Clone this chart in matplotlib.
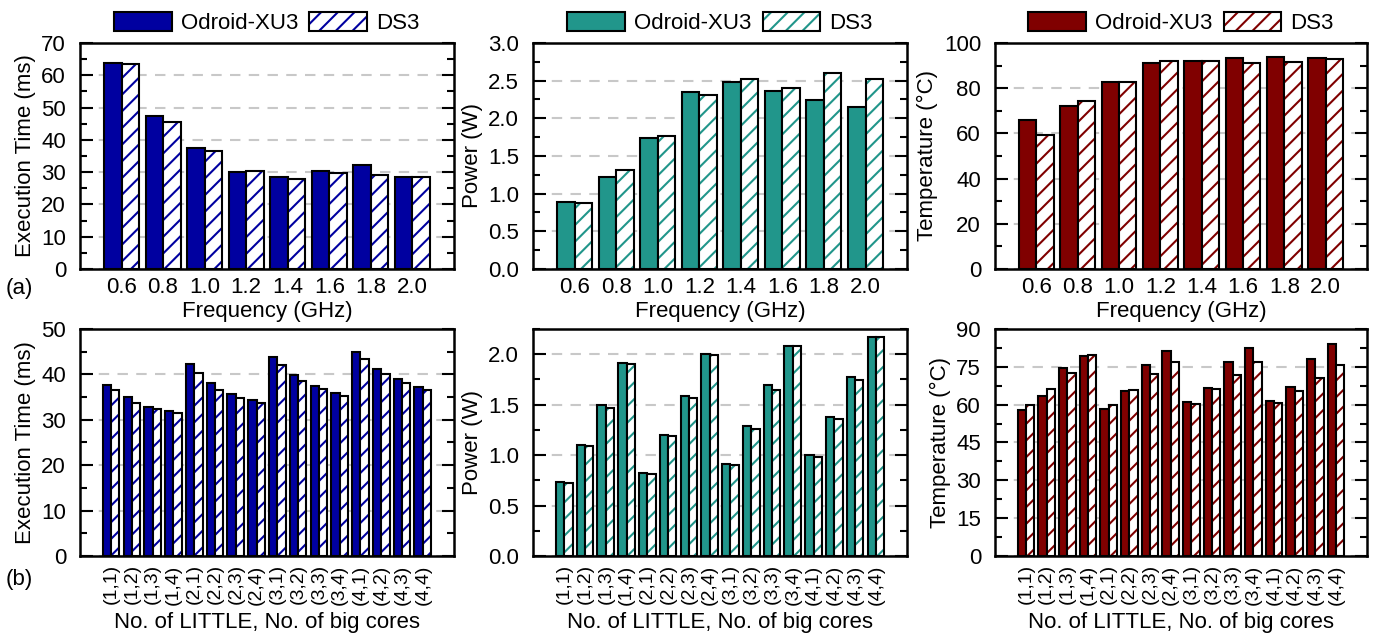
import numpy as np
import matplotlib
matplotlib.use("Agg")
import matplotlib.pyplot as plt
from matplotlib.patches import Patch
from matplotlib.ticker import MultipleLocator

#----------------------------------------------------------------
# data
#----------------------------------------------------------------
freqs = ["0.6", "0.8", "1.0", "1.2", "1.4", "1.6", "1.8", "2.0"]
cores = ["(1,1)", "(1,2)", "(1,3)", "(1,4)", "(2,1)", "(2,2)", "(2,3)", "(2,4)",
         "(3,1)", "(3,2)", "(3,3)", "(3,4)", "(4,1)", "(4,2)", "(4,3)", "(4,4)"]

# (a) frequency sweep
time_freq_odroid = [63.9, 47.4, 37.4, 30.0, 28.6, 30.2, 32.1, 28.6]
time_freq_ds3 = [63.6, 45.5, 36.4, 30.5, 27.9, 29.7, 29.0, 28.5]
power_freq_odroid = [0.89, 1.22, 1.74, 2.35, 2.48, 2.36, 2.24, 2.15]
power_freq_ds3 = [0.87, 1.31, 1.76, 2.31, 2.52, 2.40, 2.60, 2.52]
temp_freq_odroid = [65.8, 72.1, 82.6, 91.2, 91.9, 93.4, 93.7, 93.2]
temp_freq_ds3 = [59.3, 74.3, 82.7, 92.0, 92.0, 91.3, 91.6, 92.9]

# (b) core configuration sweep
time_core_odroid = [37.7, 35.0, 32.9, 32.0, 42.3, 38.0, 35.7, 34.3,
                    43.8, 39.9, 37.4, 36.0, 44.9, 41.2, 39.0, 37.2]
time_core_ds3 = [36.6, 33.6, 32.3, 31.5, 40.2, 36.6, 34.7, 33.8,
                 42.1, 38.6, 36.7, 35.2, 43.5, 40.0, 38.1, 36.6]
power_core_odroid = [0.73, 1.10, 1.50, 1.91, 0.82, 1.20, 1.59, 2.00,
                     0.91, 1.29, 1.69, 2.08, 1.00, 1.38, 1.77, 2.17]
power_core_ds3 = [0.72, 1.09, 1.47, 1.90, 0.81, 1.19, 1.57, 1.99,
                  0.90, 1.26, 1.65, 2.08, 0.98, 1.36, 1.74, 2.17]
temp_core_odroid = [58.0, 63.4, 74.4, 79.3, 58.3, 65.5, 75.6, 81.3,
                    60.9, 66.7, 76.9, 82.3, 61.6, 67.0, 78.1, 84.2]
temp_core_ds3 = [59.7, 66.3, 72.6, 79.7, 59.9, 65.9, 72.3, 76.9,
                 60.3, 66.3, 71.8, 76.9, 60.7, 65.5, 70.6, 75.9]

BLUE = "#0000a0"
TEAL = "#21968b"
RED = "#800000"

plt.rcParams["font.family"] = ["Liberation Sans", "DejaVu Sans"]
plt.rcParams["font.size"] = 16
plt.rcParams["hatch.linewidth"] = 1.5


#----------------------------------------------------------------
# one panel
#----------------------------------------------------------------
def draw_panel(ax, labels, od, ds, color, ylim, major, minor, ylabel, width,
               xlim, xlabel, rotate=False, legend=False):
    x = np.arange(len(labels))
    ax.bar(x - width / 2, od, width, color=color, edgecolor="black", linewidth=1.5, zorder=3)
    # hatched bar: colored hatch, then black outline on top
    ax.bar(x + width / 2, ds, width, color="white", edgecolor=color, hatch="//", linewidth=0, zorder=3)
    ax.bar(x + width / 2, ds, width, color="none", edgecolor="black", linewidth=1.5, zorder=4)

    ax.set_xlim(*xlim)
    ax.set_ylim(*ylim)
    ax.yaxis.set_major_locator(MultipleLocator(major))
    ax.yaxis.set_minor_locator(MultipleLocator(minor))
    ax.tick_params(axis="y", which="both", direction="in", left=True, right=True, width=1.5, pad=10)
    ax.tick_params(axis="y", which="major", length=9)
    ax.tick_params(axis="y", which="minor", length=5)
    ax.set_xticks(x)
    if rotate:
        ax.tick_params(axis="x", length=0, pad=6)
        ax.set_xticklabels(labels, rotation=90, fontsize=14)
        ax.set_xlabel(xlabel, labelpad=5)
    else:
        ax.tick_params(axis="x", length=0, pad=6)
        ax.set_xticklabels(labels)
        ax.set_xlabel(xlabel, labelpad=2)
    ax.yaxis.grid(True, which="major", color="#c8c8c8", linestyle=(0, (5, 4)), linewidth=1.5)
    ax.set_axisbelow(True)
    for s in ax.spines.values():
        s.set_linewidth(1.8)
    ax.set_ylabel(ylabel, labelpad=4)

    if legend:
        h_od = Patch(facecolor=color, edgecolor="black", linewidth=1.5)
        h_ds = (Patch(facecolor="white", edgecolor=color, hatch="//", linewidth=0),
                Patch(facecolor="none", edgecolor="black", linewidth=1.5))
        ax.legend([h_od, h_ds], ["Odroid-XU3", "DS3"], ncol=2, frameon=False,
                  loc="lower center", bbox_to_anchor=(0.5, 0.99), fontsize=16,
                  handlelength=2.6, handleheight=1.0, handletextpad=0.4,
                  columnspacing=0.5, borderaxespad=0.1)


fig = plt.figure(figsize=(13.76, 6.35), dpi=100)

top_y, top_h = 0.5764, 0.3559
bot_y, bot_h = 0.1244, 0.3575
cols = [(0.0581, 0.2718), (0.3874, 0.2718), (0.7231, 0.2703)]

ax1 = fig.add_axes([cols[0][0], top_y, cols[0][1], top_h])
ax2 = fig.add_axes([cols[1][0], top_y, cols[1][1], top_h])
ax3 = fig.add_axes([cols[2][0], top_y, cols[2][1], top_h])
ax4 = fig.add_axes([cols[0][0], bot_y, cols[0][1], bot_h])
ax5 = fig.add_axes([cols[1][0], bot_y, cols[1][1], bot_h])
ax6 = fig.add_axes([cols[2][0], bot_y, cols[2][1], bot_h])

fx = "Frequency (GHz)"
cx = "No. of LITTLE, No. of big cores"

draw_panel(ax1, freqs, time_freq_odroid, time_freq_ds3, BLUE, (0, 70), 10, 5,
           "Execution Time (ms)", 0.42, (-1, 8), fx, legend=True)
draw_panel(ax2, freqs, power_freq_odroid, power_freq_ds3, TEAL, (0, 3.0), 0.5, 0.25,
           "Power (W)", 0.42, (-1, 8), fx, legend=True)
draw_panel(ax3, freqs, temp_freq_odroid, temp_freq_ds3, RED, (0, 100), 20, 10,
           "Temperature (°C)", 0.42, (-1, 8), fx, legend=True)
draw_panel(ax4, cores, time_core_odroid, time_core_ds3, BLUE, (0, 50), 10, 5,
           "Execution Time (ms)", 0.4, (-1.5, 16.5), cx, rotate=True)
draw_panel(ax5, cores, power_core_odroid, power_core_ds3, TEAL, (0, 2.25), 0.5, 0.25,
           "Power (W)", 0.4, (-1.5, 16.5), cx, rotate=True)
draw_panel(ax6, cores, temp_core_odroid, temp_core_ds3, RED, (0, 90), 15, 7.5,
           "Temperature (°C)", 0.4, (-1.5, 16.5), cx, rotate=True)

ax2.yaxis.set_major_formatter(lambda v, p: f"{v:.1f}")
ax5.yaxis.set_major_formatter(lambda v, p: f"{v:.1f}")

fig.text(0.004, 0.537, "(a)", fontsize=16)
fig.text(0.004, 0.078, "(b)", fontsize=16)

fig.savefig("out.png", dpi=100)
